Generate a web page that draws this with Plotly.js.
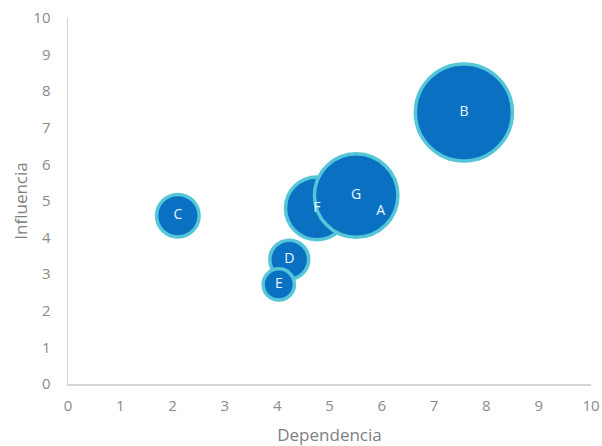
<!DOCTYPE html>
<html>
<head>
<meta charset="utf-8">
<script src="https://cdn.plot.ly/plotly-3.0.1.min.js"></script>
<style>html,body{margin:0;padding:0;background:#fff;}#chart{width:602px;height:446px;}</style>
</head>
<body>
<div id="chart"></div>
<script>
const labels = ["A", "B", "C", "D", "E", "F", "G"];
const dependencia = [5.98, 7.57, 2.10, 4.23, 4.03, 4.76, 5.51];
const influencia = [4.70, 7.42, 4.60, 3.40, 2.72, 4.80, 5.15];
const peso = [0.9, 25, 4.8, 4.0, 2.6, 10.5, 18.5];
const ticks = [0,1,2,3,4,5,6,7,8,9,10];

const maxDiam = 97;
const sizeref = 2 * Math.max(...peso) / (maxDiam * maxDiam);

const trace = {
  type: 'scatter',
  mode: 'markers+text',
  x: dependencia,
  y: influencia,
  text: labels,
  textposition: 'middle center',
  textfont: {family: '"Open Sans", sans-serif', size: 14, color: '#eef6ff'},
  marker: {
    size: peso,
    sizemode: 'area',
    sizeref: sizeref,
    color: '#0a70c2',
    opacity: 1,
    line: {color: '#55c6d8', width: 3.5}
  },
  hoverinfo: 'none',
  cliponaxis: false
};

const axisFont = {family: '"Open Sans", sans-serif', size: 15, color: '#8a8a8a'};
const titleFont = {family: '"Open Sans", sans-serif', size: 17, color: '#808080'};

const layout = {
  width: 602,
  height: 446,
  margin: {l: 68, r: 11, t: 18, b: 62},
  paper_bgcolor: '#ffffff',
  plot_bgcolor: '#ffffff',
  showlegend: false,
  xaxis: {
    range: [0, 10],
    tickvals: ticks,
    ticktext: ticks.map(String),
    showgrid: false,
    zeroline: false,
    showline: true,
    linecolor: '#d4d4d4',
    linewidth: 1.5,
    ticks: '',
    ticklabelstandoff: 7,
    tickfont: axisFont,
    title: {text: 'Dependencia', font: titleFont, standoff: 15}
  },
  yaxis: {
    range: [0, 10],
    tickvals: ticks,
    ticktext: ticks.map(String),
    showgrid: false,
    zeroline: false,
    showline: true,
    linecolor: '#d4d4d4',
    linewidth: 1.5,
    ticks: '',
    ticklabelstandoff: 13,
    tickfont: axisFont,
    title: {text: 'Influencia', font: titleFont, standoff: 1}
  }
};

Plotly.newPlot('chart', [trace], layout, {displayModeBar: false, staticPlot: true});
</script>
</body>
</html>
